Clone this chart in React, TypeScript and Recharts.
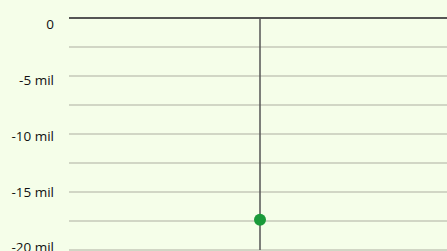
import React from "react";
import { LineChart, Line, XAxis, YAxis, CartesianGrid, ReferenceLine } from "recharts";

const categories = ["2020"];
const seriesValues = [-17400000];
const yTicks = [0, -2500000, -5000000, -7500000, -10000000, -12500000, -15000000, -17500000, -20000000];

const data = categories.map((c, i) => ({ name: c, value: seriesValues[i] }));

const fmt = (v: number) => {
  if (v === 0) return "0";
  if (v % 5000000 !== 0) return "";
  return `${v / 1000000} mil`;
};

const Tick = (props: any) => {
  const { x, y, payload } = props;
  const label = fmt(payload.value);
  if (!label) return null;
  const step = -payload.value / 5000000;
  const off = 6.5 - step * 2.2;
  return (
    <text
      x={x}
      y={y + off}
      dy="0.355em"
      textAnchor="end"
      fill="#111"
      fontSize={13.5}
      fontFamily="'Open Sans', sans-serif"
    >
      {label}
    </text>
  );
};

export default function App() {
  return (
    <div style={{ position: "absolute", left: 0, top: 0, width: 447, height: 251, overflow: "hidden", background: "#f5fee9" }}>
      <LineChart
        width={460}
        height={270}
        data={data}
        margin={{ top: 18, right: 9, left: 0, bottom: 20 }}
      >
        <CartesianGrid vertical={false} stroke="#c4c8b8" strokeWidth={1.5} />
        <XAxis dataKey="name" hide />
        <YAxis
          width={69}
          domain={[-20000000, 0]}
          ticks={yTicks}
          interval={0}
          tickFormatter={fmt}
          axisLine={false}
          tickLine={false}
          tickSize={0}
          tickMargin={15}
          tick={<Tick />}
        />
        <ReferenceLine y={0} stroke="#555" strokeWidth={2} />
        <ReferenceLine x="2020" stroke="#555" strokeWidth={1.5} />
        <Line
          dataKey="value"
          stroke="#1a9a3a"
          isAnimationActive={false}
          dot={{ r: 6, fill: "#1a9a3a", stroke: "none" }}
        />
      </LineChart>
    </div>
  );
}
